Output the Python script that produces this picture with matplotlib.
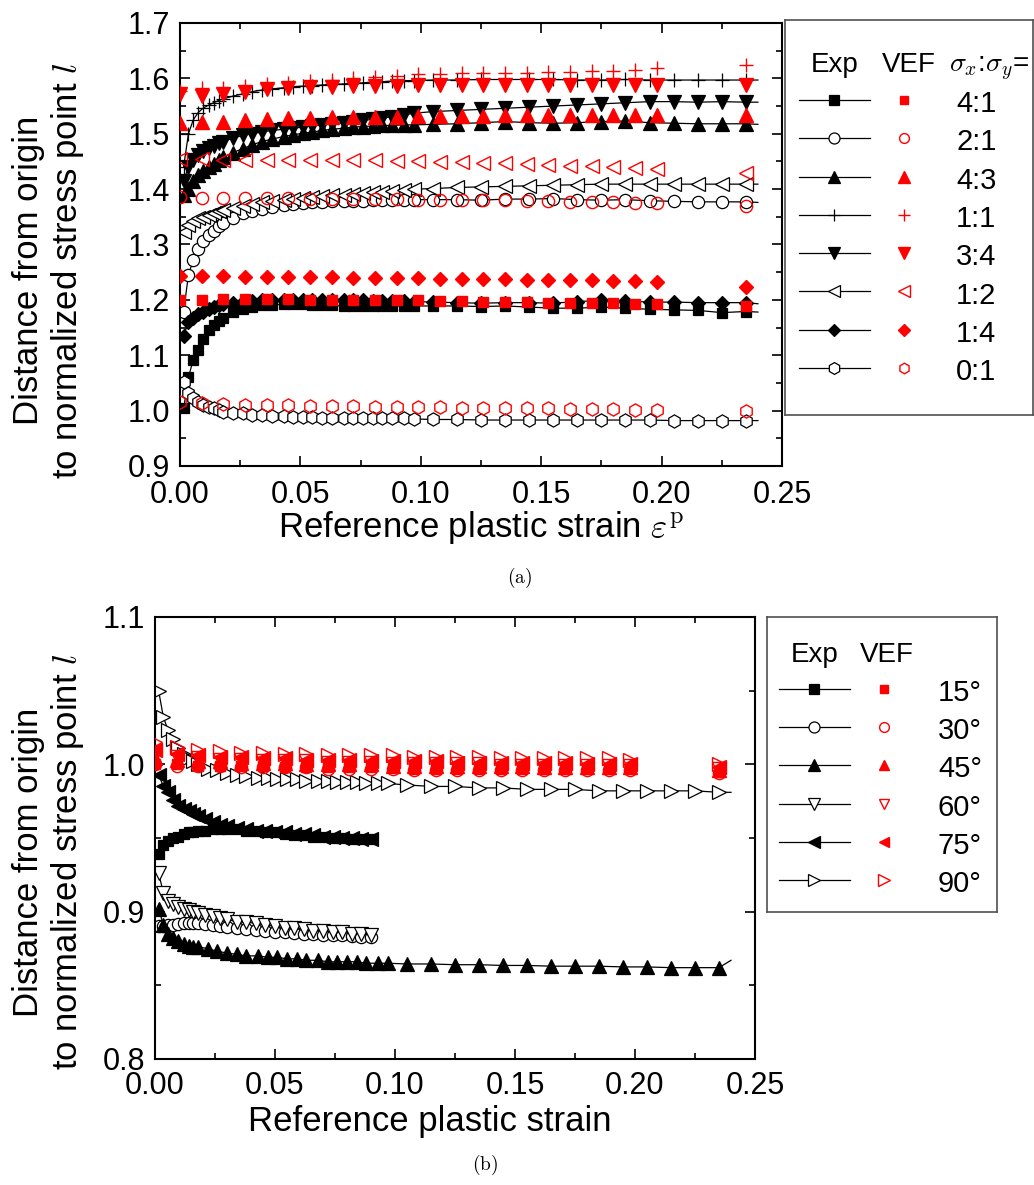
import matplotlib
matplotlib.use("Agg")
import matplotlib.pyplot as plt
from matplotlib.ticker import MultipleLocator, FormatStrFormatter

plt.rcParams["font.family"] = ["Liberation Sans", "DejaVu Sans"]
plt.rcParams["mathtext.fontset"] = "cm"

# ---- (a) biaxial stress ratios -------------------------------------------
# strain levels of the experimental records (dense at start, then every 0.01)
exp_strain = [0.0015, 0.0035, 0.0055, 0.0075, 0.0095, 0.012, 0.014, 0.016, 0.018,
              0.022, 0.026, 0.030, 0.034, 0.038, 0.043, 0.047, 0.051, 0.055, 0.059, 0.063,
              0.068, 0.072, 0.076, 0.080, 0.084, 0.088, 0.093, 0.097, 0.105, 0.115,
              0.125, 0.135, 0.145, 0.155, 0.165, 0.175, 0.185, 0.195, 0.205, 0.215, 0.225, 0.235,
              0.240]
# strain levels of the VEF predictions
vef_strain = [0.000, 0.009, 0.018, 0.027, 0.036, 0.045, 0.054, 0.063, 0.072, 0.081, 0.090, 0.099,
              0.108, 0.117, 0.126, 0.135, 0.144, 0.153, 0.162, 0.171, 0.180, 0.189, 0.198,
              0.235]

ratio_labels = ["4:1", "2:1", "4:3", "1:1", "3:4", "1:2", "1:4", "0:1"]

exp_41 = [1.004, 1.060, 1.092, 1.110, 1.130, 1.146, 1.155, 1.162, 1.168,
          1.178, 1.184, 1.188, 1.190, 1.191, 1.192, 1.192, 1.192, 1.191, 1.190, 1.190,
          1.189, 1.189, 1.189, 1.189, 1.189, 1.189, 1.189, 1.189, 1.189, 1.189,
          1.188, 1.189, 1.187, 1.185, 1.185, 1.187, 1.185, 1.183, 1.182, 1.181, 1.177, 1.179,
          1.178]
exp_21 = [1.179, 1.245, 1.272, 1.292, 1.307, 1.318, 1.325, 1.333, 1.339,
          1.348, 1.356, 1.361, 1.365, 1.368, 1.371, 1.373, 1.375, 1.376, 1.377, 1.378,
          1.378, 1.379, 1.379, 1.380, 1.380, 1.380, 1.381, 1.381, 1.381, 1.381,
          1.380, 1.382, 1.382, 1.383, 1.381, 1.380, 1.381, 1.379, 1.378, 1.377, 1.377, 1.377,
          1.376]
exp_43 = [1.390, 1.400, 1.415, 1.425, 1.432, 1.440, 1.446, 1.452, 1.458,
          1.466, 1.473, 1.480, 1.486, 1.490, 1.495, 1.498, 1.501, 1.503, 1.506, 1.508,
          1.510, 1.512, 1.513, 1.514, 1.515, 1.515, 1.516, 1.516, 1.517, 1.518,
          1.520, 1.522, 1.520, 1.519, 1.520, 1.522, 1.523, 1.520, 1.519, 1.518, 1.518, 1.518,
          1.517]
exp_11 = [1.440, 1.500, 1.525, 1.538, 1.546, 1.552, 1.556, 1.560, 1.563,
          1.568, 1.572, 1.576, 1.579, 1.581, 1.583, 1.585, 1.586, 1.587, 1.588, 1.589,
          1.590, 1.591, 1.592, 1.593, 1.594, 1.595, 1.596, 1.596, 1.597, 1.597,
          1.598, 1.598, 1.598, 1.598, 1.597, 1.597, 1.598, 1.597, 1.597, 1.597, 1.597, 1.597,
          1.597]
exp_34 = [1.415, 1.440, 1.452, 1.461, 1.468, 1.474, 1.478, 1.483, 1.486,
          1.492, 1.497, 1.500, 1.503, 1.506, 1.508, 1.510, 1.512, 1.514, 1.516, 1.518,
          1.520, 1.522, 1.524, 1.526, 1.528, 1.531, 1.534, 1.537, 1.540, 1.542,
          1.544, 1.546, 1.548, 1.550, 1.552, 1.554, 1.556, 1.558, 1.558, 1.557, 1.558, 1.557,
          1.557]
exp_12 = [1.322, 1.335, 1.342, 1.347, 1.350, 1.353, 1.356, 1.360, 1.362,
          1.366, 1.370, 1.373, 1.376, 1.378, 1.380, 1.382, 1.384, 1.386, 1.388, 1.389,
          1.390, 1.391, 1.393, 1.394, 1.395, 1.397, 1.398, 1.400, 1.401, 1.403,
          1.404, 1.405, 1.406, 1.407, 1.408, 1.409, 1.409, 1.409, 1.409, 1.409, 1.409, 1.409,
          1.409]
exp_14 = [1.135, 1.160, 1.168, 1.175, 1.179, 1.184, 1.187, 1.190, 1.192,
          1.194, 1.196, 1.198, 1.199, 1.199, 1.200, 1.200, 1.200, 1.200, 1.199, 1.199,
          1.199, 1.199, 1.199, 1.198, 1.198, 1.198, 1.198, 1.197, 1.196, 1.195,
          1.194, 1.195, 1.195, 1.194, 1.197, 1.199, 1.198, 1.196, 1.196, 1.195, 1.195, 1.195,
          1.193]
exp_01 = [1.052, 1.031, 1.022, 1.016, 1.010, 1.007, 1.004, 1.001, 0.998,
          0.996, 0.995, 0.993, 0.992, 0.991, 0.990, 0.989, 0.989, 0.988, 0.987, 0.987,
          0.987, 0.987, 0.986, 0.986, 0.986, 0.986, 0.986, 0.985, 0.984, 0.984,
          0.983, 0.983, 0.983, 0.983, 0.983, 0.983, 0.983, 0.983, 0.982, 0.982, 0.982, 0.982,
          0.982]

vef_41 = [1.200, 1.200, 1.201, 1.201, 1.201, 1.201, 1.200, 1.200, 1.200, 1.199, 1.199, 1.199,
          1.198, 1.198, 1.197, 1.196, 1.196, 1.195, 1.195, 1.194, 1.194, 1.193, 1.192, 1.189]
vef_21 = [1.385, 1.384, 1.384, 1.384, 1.384, 1.384, 1.383, 1.383, 1.383, 1.382, 1.382, 1.381,
          1.381, 1.380, 1.380, 1.380, 1.379, 1.378, 1.377, 1.376, 1.376, 1.375, 1.375, 1.370]
vef_43 = [1.520, 1.521, 1.522, 1.524, 1.527, 1.528, 1.529, 1.530, 1.530, 1.530, 1.531, 1.532,
          1.532, 1.532, 1.532, 1.533, 1.533, 1.533, 1.533, 1.533, 1.533, 1.533, 1.533, 1.533]
vef_11 = [1.578, 1.582, 1.583, 1.586, 1.589, 1.592, 1.595, 1.597, 1.600, 1.603, 1.604, 1.607,
          1.608, 1.610, 1.610, 1.609, 1.610, 1.611, 1.612, 1.613, 1.614, 1.615, 1.618, 1.625]
vef_34 = [1.572, 1.568, 1.571, 1.576, 1.580, 1.582, 1.584, 1.585, 1.586, 1.586, 1.587, 1.588,
          1.588, 1.588, 1.588, 1.588, 1.588, 1.588, 1.588, 1.588, 1.588, 1.588, 1.588, 1.588]
vef_12 = [1.455, 1.455, 1.453, 1.453, 1.453, 1.453, 1.453, 1.453, 1.452, 1.452, 1.451, 1.451,
          1.449, 1.449, 1.448, 1.447, 1.446, 1.444, 1.442, 1.441, 1.440, 1.439, 1.437, 1.430]
vef_14 = [1.243, 1.243, 1.243, 1.242, 1.242, 1.242, 1.241, 1.241, 1.240, 1.240, 1.239, 1.239,
          1.238, 1.238, 1.237, 1.237, 1.236, 1.236, 1.235, 1.235, 1.234, 1.234, 1.233, 1.224]
vef_01 = [1.015, 1.013, 1.012, 1.011, 1.010, 1.010, 1.009, 1.008, 1.008, 1.007, 1.007, 1.006,
          1.006, 1.005, 1.005, 1.004, 1.004, 1.004, 1.003, 1.003, 1.003, 1.002, 1.002, 1.000]

# ---- (b) loading angles --------------------------------------------------
angle_labels = ["15°", "30°", "45°", "60°", "75°", "90°"]

short_strain = [0.0015, 0.0035, 0.0055, 0.0075, 0.0095, 0.012, 0.014, 0.016, 0.018,
                0.021, 0.024, 0.027, 0.030,
                0.034, 0.038, 0.042, 0.046, 0.050, 0.054, 0.058, 0.062, 0.066, 0.070,
                0.074, 0.078, 0.082, 0.086, 0.090]

exp_15 = [0.939, 0.945, 0.948, 0.950, 0.951, 0.953, 0.954, 0.954, 0.955,
          0.955, 0.956, 0.956, 0.956,
          0.956, 0.955, 0.955, 0.954, 0.954, 0.953, 0.952, 0.952, 0.951, 0.951,
          0.950, 0.950, 0.949, 0.949, 0.949]
exp_30 = [0.890, 0.8905, 0.891, 0.891, 0.8915, 0.892, 0.892, 0.892, 0.892,
          0.8915, 0.891, 0.890, 0.8895,
          0.889, 0.888, 0.8875, 0.887, 0.886, 0.886, 0.8855, 0.885, 0.885, 0.8845,
          0.884, 0.884, 0.8835, 0.883, 0.883]
exp_60 = [0.926, 0.913, 0.907, 0.905, 0.903, 0.902, 0.901, 0.900, 0.899,
          0.898, 0.897, 0.896, 0.895,
          0.893, 0.893, 0.892, 0.891, 0.890, 0.889, 0.889, 0.888, 0.887, 0.887,
          0.886, 0.886, 0.885, 0.885, 0.884]
exp_75 = [0.993, 0.985, 0.981, 0.976, 0.972, 0.970, 0.968, 0.966, 0.965,
          0.963, 0.961, 0.959, 0.958,
          0.957, 0.956, 0.955, 0.955, 0.954, 0.954, 0.953, 0.953, 0.952, 0.951,
          0.951, 0.950, 0.950, 0.949, 0.949]
exp_45 = [0.902, 0.891, 0.885, 0.882, 0.880, 0.878, 0.877, 0.876, 0.876,
          0.875, 0.873, 0.872, 0.871, 0.870, 0.870, 0.869, 0.869, 0.868, 0.868, 0.867,
          0.867, 0.866, 0.866, 0.866, 0.866, 0.865, 0.865, 0.865, 0.8645, 0.8645,
          0.864, 0.864, 0.8635, 0.8635, 0.863, 0.863, 0.863, 0.8625, 0.8625, 0.862, 0.862, 0.862,
          0.867]
exp_90 = [1.050, 1.032, 1.023, 1.017, 1.011, 1.007, 1.004, 1.002, 1.000,
          0.997, 0.996, 0.994, 0.993, 0.992, 0.991, 0.991, 0.990, 0.990, 0.990, 0.989,
          0.989, 0.989, 0.988, 0.988, 0.988, 0.987, 0.987, 0.987, 0.986, 0.985,
          0.985, 0.984, 0.984, 0.983, 0.983, 0.983, 0.982, 0.982, 0.982, 0.982, 0.982, 0.981,
          0.981]

vef_15 = [1.000, 1.000, 0.999, 0.999, 0.999, 0.999, 0.998, 0.998, 0.998, 0.998, 0.998, 0.998,
          0.997, 0.997, 0.997, 0.997, 0.997, 0.997, 0.997, 0.997, 0.997, 0.997, 0.997, 0.995]
vef_30 = [1.000, 0.999, 0.999, 0.999, 0.998, 0.998, 0.998, 0.998, 0.997, 0.997, 0.997, 0.997,
          0.996, 0.996, 0.996, 0.996, 0.996, 0.996, 0.996, 0.996, 0.996, 0.996, 0.996, 0.994]
vef_45 = [1.004, 1.003, 1.002, 1.002, 1.001, 1.001, 1.001, 1.000, 1.000, 1.000, 1.000, 0.999,
          0.999, 0.999, 0.999, 0.999, 0.999, 0.999, 0.998, 0.998, 0.998, 0.998, 0.998, 0.996]
vef_60 = [1.007, 1.005, 1.004, 1.003, 1.003, 1.002, 1.002, 1.002, 1.001, 1.001, 1.001, 1.000,
          1.000, 1.000, 1.000, 1.000, 0.999, 0.999, 0.999, 0.999, 0.999, 0.999, 0.999, 0.997]
vef_75 = [1.010, 1.007, 1.006, 1.005, 1.005, 1.004, 1.004, 1.003, 1.003, 1.003, 1.002, 1.002,
          1.002, 1.002, 1.001, 1.001, 1.001, 1.001, 1.001, 1.001, 1.000, 1.000, 1.000, 0.998]
vef_90 = [1.015, 1.012, 1.010, 1.009, 1.008, 1.008, 1.007, 1.007, 1.006, 1.006, 1.006, 1.006,
          1.005, 1.005, 1.005, 1.005, 1.004, 1.004, 1.004, 1.004, 1.004, 1.004, 1.003, 1.000]

RED = "#ff0000"

# (label, exp x, exp y, vef y, marker, filled, size, marker on last exp point)
series_a = [
    ("4:1", exp_strain, exp_41, vef_41, "s", True, 7.8, False),
    ("2:1", exp_strain, exp_21, vef_21, "o", False, 8.8, False),
    ("4:3", exp_strain, exp_43, vef_43, "^", True, 10.0, False),
    ("1:1", exp_strain, exp_11, vef_11, "+", True, 10.0, False),
    ("3:4", exp_strain, exp_34, vef_34, "v", True, 10.0, False),
    ("1:2", exp_strain, exp_12, vef_12, "<", False, 10.0, False),
    ("1:4", exp_strain, exp_14, vef_14, "D", True, 7.2, False),
    ("0:1", exp_strain, exp_01, vef_01, "h", False, 9.5, False),
]
series_b = [
    ("15°", short_strain, exp_15, vef_15, "s", True, 7.8, True),
    ("30°", short_strain, exp_30, vef_30, "o", False, 8.8, True),
    ("45°", exp_strain, exp_45, vef_45, "^", True, 9.5, False),
    ("60°", short_strain, exp_60, vef_60, "v", False, 9.5, True),
    ("75°", short_strain, exp_75, vef_75, "<", True, 9.5, True),
    ("90°", exp_strain, exp_90, vef_90, ">", False, 10.0, False),
]

W, H = 1034, 1185
fig = plt.figure(figsize=(W / 100, H / 100), dpi=100)


def px_rect(x0, y0, x1, y1):
    return [x0 / W, 1 - y1 / H, (x1 - x0) / W, (y1 - y0) / H]


def draw_panel(ax, series):
    for label, ex, ey, vy, mk, filled, ms, mark_last in series:
        every = None if mark_last else slice(0, len(ex) - 1)
        ax.plot(ex, ey, color="black", lw=0.9, marker=mk, ms=ms,
                mfc="black" if filled else "white", mec="black", mew=0.9,
                markevery=every, zorder=2)
    for label, ex, ey, vy, mk, filled, ms, mark_last in series:
        ax.plot(vef_strain, vy, ls="none", marker=mk, ms=ms,
                mfc=RED if filled else "none", mec=RED, mew=1.0, zorder=3)


def style_axes(ax, ymin, ymax, xpad):
    ax.set_xlim(0, 0.25)
    ax.set_ylim(ymin, ymax)
    ax.xaxis.set_major_locator(MultipleLocator(0.05))
    ax.xaxis.set_minor_locator(MultipleLocator(0.025))
    ax.yaxis.set_major_locator(MultipleLocator(0.1))
    ax.yaxis.set_minor_locator(MultipleLocator(0.05))
    ax.xaxis.set_major_formatter(FormatStrFormatter("%.2f"))
    ax.yaxis.set_major_formatter(FormatStrFormatter("%.1f"))
    ax.tick_params(which="both", direction="in", top=True, right=True, width=1.2)
    ax.tick_params(which="major", length=7, labelsize=22)
    ax.tick_params(which="minor", length=4)
    ax.tick_params(axis="x", pad=xpad)
    ax.tick_params(axis="y", pad=7)
    for sp in ax.spines.values():
        sp.set_linewidth(1.5)


def draw_legend(rect, series, header, first_row, step, glyph):
    lax = fig.add_axes(px_rect(*rect))
    w, h = rect[2] - rect[0], rect[3] - rect[1]
    lax.set_xlim(0, w)
    lax.set_ylim(h, 0)
    lax.set_xticks([])
    lax.set_yticks([])
    for sp in lax.spines.values():
        sp.set_color("#505050")
        sp.set_linewidth(1.2)
    x_line0, x_mark, x_line1, x_vef, x_txt = glyph
    for i, (label, ex, ey, vy, mk, filled, ms, mark_last) in enumerate(series):
        y = first_row + i * step
        lax.plot([x_line0, x_mark, x_line1], [y, y, y], color="black", lw=0.9,
                 marker=mk, ms=ms * 0.9, mfc="black" if filled else "white",
                 mec="black", mew=0.9, markevery=[1])
        lax.plot([x_vef], [y], ls="none", marker=mk, ms=ms * 0.8,
                 mfc=RED if filled else "none", mec=RED, mew=1.0)
        lax.text(x_txt, y + 12, label, fontsize=21, va="baseline", ha="left")
    for text, x, y, ha in header:
        lax.text(x, y, text, fontsize=20, va="baseline", ha=ha)


# panel (a)
ax_a = fig.add_axes(px_rect(180, 23, 782, 466))
draw_panel(ax_a, series_a)
style_axes(ax_a, 0.9, 1.7, 10)
ax_a.set_xlabel(r"Reference plastic strain $\varepsilon^{\mathrm{p}}$", fontsize=25)
ax_a.set_ylabel("Distance from origin\nto normalized stress point $l$", fontsize=25,
                linespacing=1.15)
ax_a.xaxis.label.set_va("center")
ax_a.yaxis.label.set_va("center")
ax_a.xaxis.set_label_coords(0.5, -0.138)
ax_a.yaxis.set_label_coords(-0.218, 0.442)

draw_legend((785, 20, 1033, 415), series_a,
            [("Exp", 50, 52, "center"), ("VEF", 124, 52, "center"),
             (r"$\sigma_x$:$\sigma_y$=", 164, 52, "left")],
            80, 38.3, (14, 49, 85, 119, 171))

# panel (b)
ax_b = fig.add_axes(px_rect(155, 617, 755, 1059))
draw_panel(ax_b, series_b)
style_axes(ax_b, 0.8, 1.1, 9)
ax_b.set_xlabel("Reference plastic strain", fontsize=25)
ax_b.set_ylabel("Distance from origin\nto normalized stress point $l$", fontsize=25,
                linespacing=1.15)
ax_b.xaxis.label.set_va("center")
ax_b.yaxis.label.set_va("center")
ax_b.xaxis.set_label_coords(0.458, -0.1425)
ax_b.yaxis.set_label_coords(-0.177, 0.4457)

draw_legend((767, 617, 997, 912), series_b,
            [("Exp", 48, 45, "center"), ("VEF", 120, 45, "center")],
            72, 38.2, (12, 47, 83, 117, 171))

fig.text(520 / W, 1 - 578 / H, r"$\mathrm{(a)}$", fontsize=14, ha="center", va="center")
fig.text(485 / W, 1 - 1165 / H, r"$\mathrm{(b)}$", fontsize=14, ha="center", va="center")

fig.savefig("out.png", dpi=100)
